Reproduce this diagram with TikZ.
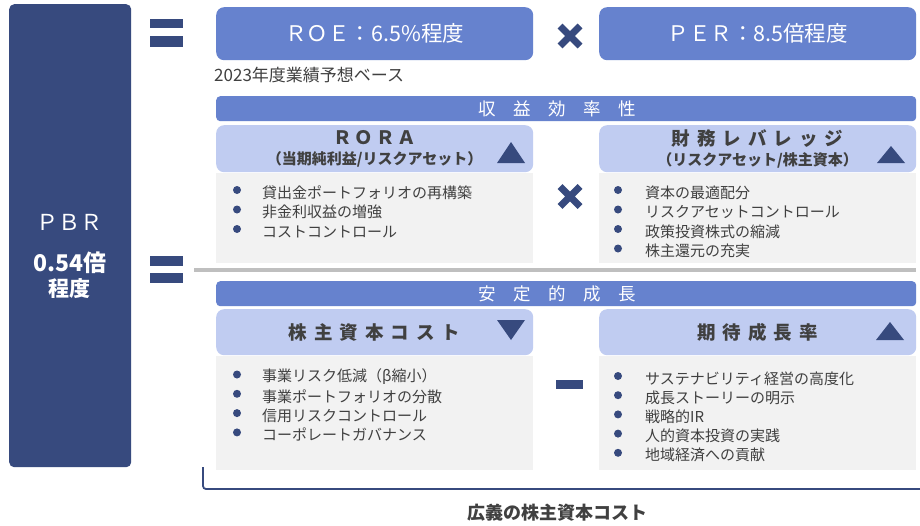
\documentclass[tikz,border=0pt]{standalone}
\usepackage{fontspec}
\setmainfont{Noto Sans CJK JP}
\definecolor{navy}{HTML}{374A7E}
\definecolor{midblue}{HTML}{6682CE}
\definecolor{lightblue}{HTML}{C0CCF1}
\definecolor{bodygray}{HTML}{F2F2F2}
\definecolor{textgray}{HTML}{404040}
\definecolor{linegray}{HTML}{BFBFBF}
\newcommand{\hdtitle}[1]{{\fontsize{18.5}{22}\selectfont\spaceskip=7pt\relax #1}}
\tikzset{
  pbrbox/.style={fill=navy, rounded corners=5pt, anchor=north west, minimum width=122pt, minimum height=463pt},
  pbrtext/.style={text=white},
  topbox/.style={fill=midblue, rounded corners=8pt, anchor=north west, minimum width=317pt, minimum height=53pt, text=white, font=\fontsize{21.5}{24}\selectfont},
  bar/.style={fill=midblue, rounded corners=4pt, anchor=north west, minimum width=700pt, minimum height=25pt},
  bartext/.style={text=white, font=\fontsize{17.5}{20}\selectfont},
  headbox/.style={fill=lightblue, rounded corners=8pt, anchor=north west, minimum width=317pt, align=center, text=textgray, font=\bfseries\fontsize{15}{20}\selectfont},
  bodybox/.style={fill=bodygray, anchor=north west, minimum width=317pt},
  item/.style={anchor=west, text=textgray, font=\fontsize{15}{18}\selectfont},
  sign/.style={fill=navy},
  cross/.style={draw=navy, line width=7pt},
}
\begin{document}
\begin{tikzpicture}[x=1pt,y=-1pt,every node/.style={inner sep=0pt}]
\useasboundingbox (0,0) rectangle (920,525);
\fill[white] (0,0) rectangle (920,525);

% PBR
\node[pbrbox] (pbr) at (9,4) {};
\node[pbrtext, font=\fontsize{22}{24}\selectfont] (pbr-name) at (69,222) {ＰＢＲ};
\node[pbrtext, font=\bfseries\fontsize{23}{24}\selectfont] (pbr-val) at (70,263) {0.54倍};
\node[pbrtext, font=\bfseries\fontsize{21}{24}\selectfont] (pbr-unit) at (69,289) {程度};

% equal signs
\fill[sign] (150,19) rectangle (183,28);
\fill[sign] (150,36) rectangle (183,47);
\fill[sign] (150,256) rectangle (183,266);
\fill[sign] (150,273) rectangle (183,283);

% ROE x PER
\node[topbox] (roe) at (216,7) {ＲＯＥ：6.5\%程度};
\node[topbox] (per) at (599,7) {ＰＥＲ：8.5倍程度};
\draw[cross] (560,26) -- (580,46) (580,26) -- (560,46);
\node[anchor=west, text=textgray, font=\fontsize{17}{18}\selectfont] (basis) at (214,75) {2023年度業績予想ベース};

% separator
\draw[linegray, line width=3.5pt] (194,270) -- (916,270);

% upper half
\node[bar] (eff) at (216,96) {};
\node[bartext] (eff-label) at (557,109) {収　益　効　率　性};
\node[headbox, minimum height=47pt] (rora) at (216,125) {\hdtitle{Ｒ\,Ｏ\,Ｒ\,Ａ}\\（当期純利益/リスクアセット）};
\node[headbox, minimum height=47pt] (lev) at (599,125) {\hdtitle{財 務 レ バ レ ッ ジ}\\（リスクアセット/株主資本）};
\fill[sign] (497,163) -- (511,142) -- (525,163) -- cycle;
\fill[sign] (877,163) -- (891,146) -- (905,163) -- cycle;
\node[bodybox, minimum height=90pt] (rora-body) at (216,173) {};
\node[bodybox, minimum height=90pt] (lev-body) at (599,173) {};
\draw[cross] (560,186.5) -- (580,206.5) (580,186.5) -- (560,206.5);
\foreach \txt [count=\i from 0] in {貸出金ポートフォリオの再構築, 非金利収益の増強, コストコントロール}{
  \fill[sign] (237,190+19.5*\i) circle (4pt);
  \node[item] (rora-\i) at (262,192.5+19.5*\i) {\txt};
}
\foreach \txt [count=\i from 0] in {資本の最適配分, リスクアセットコントロール, 政策投資株式の縮減, 株主還元の充実}{
  \fill[sign] (618,190+19.5*\i) circle (4pt);
  \node[item] (lev-\i) at (645,192.5+19.5*\i) {\txt};
}

% lower half
\node[bar] (stab) at (216,281) {};
\node[bartext] (stab-label) at (557,294) {安　定　的　成　長};
\node[headbox, minimum height=46pt] (coe) at (216,309) {\hdtitle{株 主 資 本 コ ス ト}};
\node[headbox, minimum height=46pt] (grow) at (599,309) {\hdtitle{期 待 成 長 率}};
\fill[sign] (497,320) -- (525,320) -- (511,340) -- cycle;
\fill[sign] (876,340) -- (890,322) -- (904,340) -- cycle;
\node[bodybox, minimum height=114pt] (coe-body) at (216,356) {};
\node[bodybox, minimum height=114pt] (grow-body) at (599,356) {};
\fill[sign] (556,380) rectangle (583,389);
\foreach \txt [count=\i from 0] in {事業リスク低減（β縮小）, 事業ポートフォリオの分散, 信用リスクコントロール, コーポレートガバナンス}{
  \fill[sign] (237,374.5+19.3*\i) circle (4pt);
  \node[item] (coe-\i) at (262,377+19.3*\i) {\txt};
}
\foreach \txt [count=\i from 0] in {サステナビリティ経営の高度化, 成長ストーリーの明示, 戦略的IR, 人的資本投資の実践, 地域経済への貢献}{
  \fill[sign] (618,376+19.2*\i) circle (4pt);
  \node[item] (grow-\i) at (645,378.5+19.2*\i) {\txt};
}

% bracket
\draw[navy, line width=1.8pt, rounded corners=3pt] (203,467) -- (203,489) -- (920,489);
\node[text=textgray, font=\bfseries\fontsize{18}{20}\selectfont] (cap) at (557,513) {広義の株主資本コスト};
\end{tikzpicture}
\end{document}
